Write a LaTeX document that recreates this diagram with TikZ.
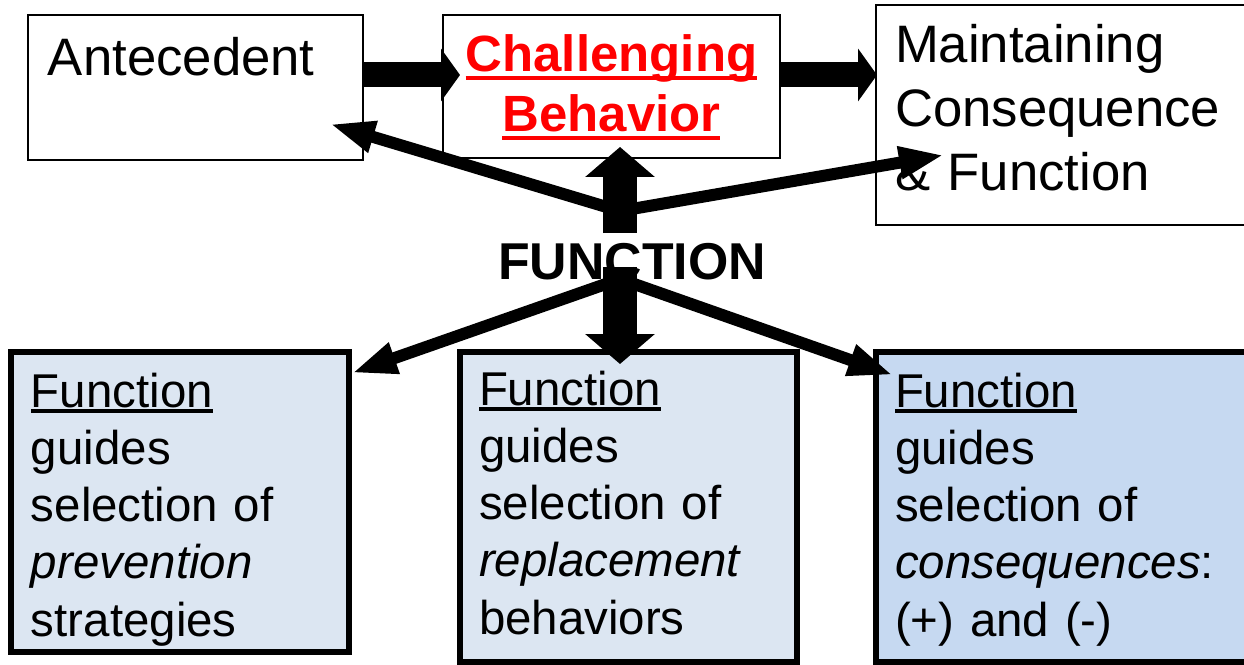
\documentclass[tikz,border=0pt]{standalone}
\usepackage{fontspec}
\setmainfont{Liberation Sans}
\usetikzlibrary{arrows.meta}
\definecolor{lightsteelblue}{HTML}{DCE6F2}
\definecolor{palecornflower}{HTML}{C6D9F1}
\newcommand{\lineunder}[2]{\leavevmode\setbox0\hbox{#2}\rlap{\rule[#1]{\wd0}{0.08em}}\box0}

\begin{document}
\begin{tikzpicture}[x=0.02cm, y=-0.02cm,
		topbox/.style={draw, line width=0.04cm, fill=white, outer sep=0pt, inner ysep=0pt, anchor=north west, align=left, font=\fontsize{30}{36.3}\selectfont},
		lowbox/.style={draw, line width=0.11cm, outer sep=0pt, inner ysep=0pt, anchor=north west, align=left, font=\fontsize{27}{32.6}\selectfont},
		fatarrow/.style={-{Triangle[length=0.38cm,width=1.04cm]}, line width=0.5cm},
		vertarrow/.style={-{Triangle[length=0.6cm,width=1.36cm]}, line width=0.68cm},
		thinarrow/.style={-{Triangle[length=0.9cm,width=0.6cm]}, line width=0.24cm}]
			\useasboundingbox (0,0) rectangle (1244,664);
			\node [topbox, inner xsep=0.4cm, text width=5.9cm, text height=1.22cm, text depth=1.68cm] (ANTE) at (28,15) {Antecedent};
			\node [topbox, align=center, inner xsep=0.1cm, text width=6.54cm, text height=1.14cm, text depth=1.72cm, text=red, font=\bfseries\fontsize{29}{34}\selectfont] (BEHAV) at (443,15) {\lineunder{-0.16em}{Challenging}\\\lineunder{-0.16em}{Behavior}};
			\node [topbox, inner xsep=0.38cm, text width=6.92cm, text height=1.16cm, text depth=3.24cm] (MAINT) at (876,5) {Maintaining\\Consequence\\\& Function};
			\node [font=\bfseries\fontsize{29.5}{34}\selectfont, inner sep=0.1cm, anchor=base] (FUNC) at (632,279) {FUNCTION};
			\node [lowbox, fill=lightsteelblue, inner xsep=0.4cm, text width=5.96cm, text height=1.1cm, text depth=4.9cm] (PREV) at (11,352) {\lineunder{-0.13em}{Function}\\guides\\selection of\\\textit{prevention}\\strategies};
			\node [lowbox, fill=lightsteelblue, inner xsep=0.38cm, text width=5.98cm, text height=1.06cm, text depth=5.14cm] (REPL) at (460,352) {\lineunder{-0.13em}{Function}\\guides\\selection of\\\textit{replacement}\\behaviors};
			\node [lowbox, fill=palecornflower, inner xsep=0.38cm, text width=6.96cm, text height=1.1cm, text depth=5.1cm] (CONS) at (876,352) {\lineunder{-0.13em}{Function}\\guides\\selection of\\\textit{consequences}:\\(+) and (-)};
			\coordinate (UPFORK) at ([xshift=-0.24cm,yshift=1.36cm]FUNC.base);
			\coordinate (DOWNFORK) at ([xshift=-0.24cm]FUNC.base);
			\path ([yshift=0.25cm]ANTE.east) edge[fatarrow] ([yshift=0.25cm,xshift=0.34cm]ANTE.east -| BEHAV.west);
			\path ([yshift=0.23cm]BEHAV.east) edge[fatarrow] ([yshift=0.23cm,xshift=0.02cm]BEHAV.east -| MAINT.west);
			\path (UPFORK) edge[thinarrow] ([xshift=-0.66cm,yshift=0.72cm]ANTE.south east);
			\path (UPFORK) edge[thinarrow] ([xshift=1.36cm,yshift=-0.8cm]MAINT.west);
			\path (DOWNFORK) edge[thinarrow] ([xshift=0.06cm,yshift=-0.42cm]PREV.north east);
			\path (DOWNFORK) edge[thinarrow] ([xshift=0.34cm,yshift=-0.46cm]CONS.north west);
			\path ([yshift=-0.44cm]UPFORK) edge[vertarrow] ([yshift=0.22cm]UPFORK |- BEHAV.south);
			\path ([yshift=0.24cm]DOWNFORK) edge[vertarrow] ([yshift=-0.24cm]DOWNFORK |- REPL.north);
\end{tikzpicture}
\end{document}
